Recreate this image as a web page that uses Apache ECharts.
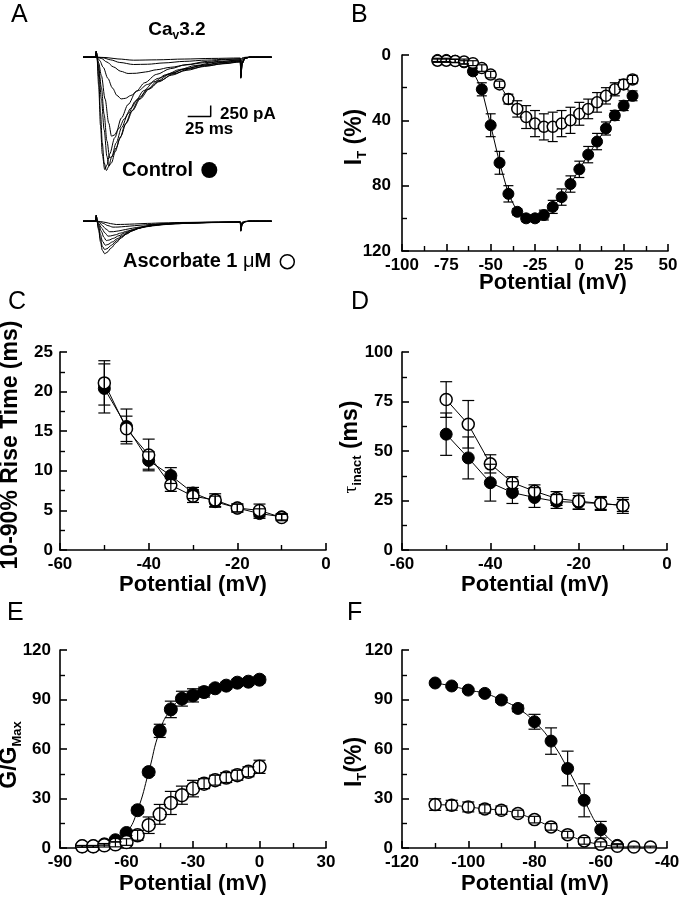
<!DOCTYPE html>
<html><head><meta charset="utf-8">
<script src="https://cdn.jsdelivr.net/npm/echarts@6/dist/echarts.min.js"></script>
<style>html,body{margin:0;padding:0;background:#fff}#c{width:680px;height:900px}</style>
</head><body><div id="c"></div><script>
// ---------------- DATA ----------------
// Panel A: current traces (time in ms, current in pA)
const onsetPts = [[0,0],[14,0],[14.5,130],[15.2,0]];
const ctrl1 = [[17,-450],[19,-1250],[21,-1950],[23,-2400],[25.5,-2575],[28,-2480],[31,-2280],[36,-1950],[42,-1600],[49,-1280],[57,-1000],[66,-760],[77,-560],[90,-400],[105,-280],[122,-190],[145,-110],[171,-60],[171.5,-480],[173,-150],[176,-30],[181,0],[205,0]];
const ctrl2 = [[17,-650],[19,-1550],[21,-2200],[23.6,-2552],[26,-2450],[29,-2200],[34.5,-1830],[41.8,-1380],[49,-1075],[58,-770],[67,-580],[80,-390],[95,-260],[112,-170],[135,-95],[155,-55],[171,-35],[171.5,-440],[173,-130],[176,-25],[181,0],[205,0]];
const ctrl3 = [[17,-300],[20,-950],[23,-1650],[26,-2250],[28,-2477],[31,-2400],[35,-2150],[40,-1850],[46,-1520],[53,-1220],[61,-950],[70,-730],[81,-540],[94,-390],[110,-270],[130,-180],[150,-120],[171,-80],[171.5,-460],[173,-140],[176,-28],[181,0],[205,0]];
const ctrl4 = [[17,-220],[20,-700],[23,-1300],[26,-1900],[29,-2289],[32,-2240],[36,-2060],[41,-1800],[47,-1500],[54,-1210],[62,-950],[72,-720],[84,-530],[98,-380],[115,-270],[135,-190],[155,-140],[171,-100],[171.5,-470],[173,-140],[176,-28],[181,0],[205,0]];
const ctrl5 = [[17,-130],[20,-420],[24,-950],[28,-1500],[31,-1795],[34,-1770],[39,-1620],[45,-1400],[52,-1160],[60,-940],[70,-740],[82,-560],[96,-410],[112,-300],[132,-210],[152,-150],[171,-110],[171.5,-420],[173,-125],[176,-25],[181,0],[205,0]];
const ctrl6 = [[18,-70],[22,-230],[27,-480],[32,-700],[37,-870],[41.5,-948],[46,-935],[52,-870],[60,-760],[70,-620],[82,-480],[96,-360],[112,-260],[132,-180],[152,-125],[171,-90],[171.5,-330],[173,-100],[176,-20],[181,0],[205,0]];
const ctrl7 = [[20,-30],[26,-110],[33,-220],[41,-320],[49,-370],[58,-365],[68,-335],[80,-285],[95,-230],[112,-175],[132,-125],[152,-90],[171,-65],[171.5,-220],[173,-65],[176,-13],[181,0],[205,0]];
const ctrl8 = [[22,-15],[30,-60],[40,-120],[55,-166],[70,-160],[88,-130],[110,-95],[135,-65],[155,-48],[171,-38],[171.5,-120],[173,-36],[176,-7],[181,0],[205,0]];
const ctrl9 = [[25,-8],[38,-40],[55,-68],[80,-60],[110,-42],[140,-28],[171,-18],[171.5,-50],[173,-15],[176,-3],[181,0],[205,0]];
const asc1 = [[17,-200],[19,-470],[21,-660],[23.6,-740],[26,-710],[30.8,-606],[36,-490],[41.6,-380],[47,-295],[52.5,-227],[60,-160],[67,-114],[78,-75],[89,-52],[110,-35],[140,-25],[171,-20],[171.5,-230],[173,-70],[176,-12],[181,0],[205,0]];
const asc2 = [[17,-170],[19,-400],[21,-570],[23.6,-645],[26,-625],[31,-545],[36,-450],[42,-355],[48,-280],[54,-215],[61,-160],[68,-120],[79,-82],[90,-58],[110,-40],[140,-28],[171,-22],[171.5,-220],[173,-66],[176,-12],[181,0],[205,0]];
const asc3 = [[17,-120],[19,-300],[21,-450],[24.2,-545],[27,-530],[32,-470],[37,-400],[43,-320],[49,-255],[56,-195],[63,-150],[71,-112],[82,-78],[95,-55],[115,-38],[140,-28],[171,-22],[171.5,-210],[173,-63],[176,-12],[181,0],[205,0]];
const asc4 = [[17,-80],[20,-230],[22.5,-360],[25.3,-440],[28,-430],[33,-390],[39,-330],[45,-270],[52,-210],[60,-160],[68,-122],[78,-90],[90,-65],[105,-48],[125,-35],[150,-26],[171,-20],[171.5,-200],[173,-60],[176,-12],[181,0],[205,0]];
const asc5 = [[17,-50],[20,-150],[24,-270],[27.2,-340],[30,-335],[35,-310],[41,-270],[48,-225],[56,-180],[65,-140],[75,-108],[87,-80],[100,-60],[118,-44],[140,-32],[171,-22],[171.5,-180],[173,-54],[176,-11],[181,0],[205,0]];
const asc6 = [[18,-35],[21,-100],[25,-180],[29,-240],[33,-238],[39,-220],[46,-190],[54,-158],[63,-128],[73,-102],[85,-78],[100,-58],[118,-42],[140,-30],[171,-20],[171.5,-150],[173,-45],[176,-9],[181,0],[205,0]];
const asc7 = [[18,-15],[22,-50],[27,-100],[32.6,-135],[38,-133],[46,-120],[56,-102],[68,-82],[82,-63],[98,-48],[118,-35],[140,-26],[171,-18],[171.5,-110],[173,-33],[176,-7],[181,0],[205,0]];
const asc8 = [[19,-8],[25,-30],[30,-55],[36.2,-75],[45,-72],[56,-63],[70,-50],[88,-38],[110,-28],[140,-20],[171,-14],[171.5,-70],[173,-21],[176,-4],[181,0],[205,0]];
const scaleBar = [[113.8,-1350],[138.8,-1350],[138.8,-1100]]; // 25 ms x 250 pA

// Panel B: I-V
const bX = [-80,-75,-70,-65,-60,-55,-50,-45,-40,-35,-30,-25,-20,-15,-10,-5,0,5,10,15,20,25,30];
const bCtrl = [3,3,3.5,4.5,10,21,43,66,85,96,100,100,98,93,87,79,70,61,53,45,37,31,25];
const bCtrlErr = [1,1,1,1,2,4,7,7,5,2,2,2,3,4,5,5,5,5,5,4,3,3,3];
const bAsc = [3.5,3.5,3.7,4,5,8,12,18,27,33,38,42,44,44,42,40,36,33,29,25,21,18,15];
const bAscErr = [1,1,1,1.5,1.5,2,2,2,3,5,7,8,8,9,8,8,7,6,6,5,4,3,2.5];
// Panel C: rise time
const cdX = [-50,-45,-40,-35,-30,-25,-20,-15,-10];
const cCtrl = [20.4,15.6,11.3,9.4,7.2,6.1,5.3,4.6,4.2];
const cCtrlErr = [3.1,2.2,1.1,1.0,0.7,0.7,0.5,0.6,0.4];
const cAsc = [21.1,15.3,12.0,8.2,6.8,6.3,5.3,5.0,4.1];
const cAscErr = [2.8,1.6,2.0,0.8,0.8,0.8,0.5,0.8,0.4];
// Panel D: tau inact
const dCtrl = [58.5,46.5,34,29,26.5,24.5,24,23.5,22.5];
const dCtrlErr = [10.7,10.6,9.3,5.5,5,3.5,3.5,3,3];
const dAsc = [76,63.5,43.5,34,29.7,26,24.7,23.5,22.5];
const dAscErr = [9,12,4.6,3,3.2,3.5,4,3.5,4];
// Panel E: activation
const eX = [-80,-75,-70,-65,-60,-55,-50,-45,-40,-35,-30,-25,-20,-15,-10,-5,0];
const eCtrl = [1,1,2.2,4.7,9.1,22.9,46,71,84,90.5,92.5,94.5,96.8,98.4,100.2,100.8,102];
const eCtrlErr = [0.5,0.5,0.5,1,1.5,2,2,4,5,4.5,4,3,2,2,2,2,2];
const eAsc = [1,1,1.6,2.2,3.6,7.7,13.8,20.4,27.3,32,36,39,41.1,42.7,44.1,46.2,49.2];
const eAscErr = [0.5,0.5,1,1.5,2,3,5,6,7,5.5,5,3,3,3,3,3,4];
// Panel F: inactivation
const fX = [-110,-105,-100,-95,-90,-85,-80,-75,-70,-65,-60,-55,-50,-45];
const fCtrl = [100,98.2,95.7,93.7,89.7,84.6,76.5,64.8,48.2,28.9,11.1,1.6];
const fCtrlErr = [1,1,1,1,1.5,2,4.5,8,10.5,10,5,1];
const fAsc = [26.3,25.9,24.9,23.7,22.9,20.9,17.2,12.8,8.1,4.3,2.2,1,0.6,0.6];
const fAscErr = [3.5,3,3,2.5,2.5,2,2,2,2,2,1.5,1,0.5,0.5];

// ---------------- BUILD ----------------
const FF = '"Liberation Sans", Arial, Helvetica, sans-serif';
const chart = echarts.init(document.getElementById('c'), null, {renderer:'canvas'});

function axis(gi, min, max, interval, opts) {
  opts = opts || {};
  return Object.assign({
    type:'value', gridIndex:gi, min:min, max:max, interval:interval,
    axisLine:{show:true, onZero:false, lineStyle:{color:'#000', width:1.6}},
    axisTick:{show:true, inside:true, length:7, lineStyle:{color:'#000', width:1.6}},
    minorTick:{show:true, splitNumber:2, length:5, lineStyle:{color:'#000', width:1.4}},
    splitLine:{show:false}, minorSplitLine:{show:false},
    axisLabel:{show:true, color:'#000', fontFamily:FF, fontWeight:'bold', fontSize:17, margin: opts.margin || 6, showMinLabel:true, showMaxLabel:true}
  }, opts.extra || {});
}
function hidden(gi, min, max) { return {type:'value', gridIndex:gi, min:min, max:max, show:false, splitLine:{show:false}}; }

function pts(gi, xs, ys, filled, size, smooth, z) {
  return {type:'line', xAxisIndex:gi, yAxisIndex:gi, z:z,
    data: ys.map((y,i)=>[xs[i], y]), symbol:'circle', symbolSize:size, smooth:smooth,
    lineStyle:{color:'#000', width:1},
    itemStyle: filled ? {color:'#000', borderColor:'#000', borderWidth:1} : {color:'#fff', borderColor:'#000', borderWidth:1.5},
    emphasis:{disabled:true}, silent:true, animation:false};
}
function errs(gi, xs, ys, es, z, hw) {
  return {type:'custom', xAxisIndex:gi, yAxisIndex:gi, z:z, silent:true, animation:false,
    data: ys.map((y,i)=>[xs[i], y, es[i]]), encode:{x:0, y:1},
    renderItem: function(p, api) {
      const x = api.value(0), y = api.value(1), e = api.value(2);
      const a = api.coord([x, y+e]), b = api.coord([x, y-e]);
      const st = {stroke:'#000', lineWidth:1.2};
      return {type:'group', children:[
        {type:'line', shape:{x1:a[0], y1:a[1], x2:b[0], y2:b[1]}, style:st},
        {type:'line', shape:{x1:a[0]-hw, y1:a[1], x2:a[0]+hw, y2:a[1]}, style:st},
        {type:'line', shape:{x1:b[0]-hw, y1:b[1], x2:b[0]+hw, y2:b[1]}, style:st}
      ]};
    }};
}
function trace(gi, body) {
  return {type:'line', xAxisIndex:gi, yAxisIndex:gi, data: onsetPts.concat(body), symbol:'none',
    smooth:0.3, smoothMonotone:'x', lineStyle:{color:'#000', width:1}, silent:true, animation:false, z:2};
}

// rich label helper (measures text to lay out parts)
const mctx = document.createElement('canvas').getContext('2d');
function fontStr(p) { return (p.style||'normal') + ' ' + (p.weight||'bold') + ' ' + p.size + 'px ' + (p.family||FF); }
function label(parts, cx, cy, rot, align) {
  let widths = parts.map(p => { mctx.font = fontStr(p); return mctx.measureText(p.t).width; });
  const total = widths.reduce((a,b)=>a+b, 0);
  let x0 = align === 'left' ? 0 : -total/2;
  const children = parts.map((p,i) => {
    const el = {type:'text', x:x0, y:(p.dy||0), style:{text:p.t, font:fontStr(p), fill:'#000', textAlign:'left', textVerticalAlign:'middle', verticalAlign:'middle'}};
    x0 += widths[i];
    return el;
  });
  return {type:'group', x:cx, y:cy, rotation: rot ? Math.PI/2 : 0, children:children, silent:true};
}
const T22 = t => ({t:t, size:22});
const graphics = [
  label([{t:'A', size:25, weight:'normal'}], 11, 15, false, 'left'),
  label([{t:'B', size:25, weight:'normal'}], 351, 15, false, 'left'),
  label([{t:'C', size:25, weight:'normal'}], 8, 302, false, 'left'),
  label([{t:'D', size:25, weight:'normal'}], 351, 302, false, 'left'),
  label([{t:'E', size:25, weight:'normal'}], 7, 613, false, 'left'),
  label([{t:'F', size:25, weight:'normal'}], 347, 613, false, 'left'),
  label([{t:'Ca', size:19}, {t:'v', size:12, dy:6}, {t:'3.2', size:19}], 177, 30, false),
  label([{t:'250 pA', size:17}], 220, 114, false, 'left'),
  label([{t:'25 ms', size:17}], 185, 129, false, 'left'),
  label([{t:'Control', size:20}], 122, 170, false, 'left'),
  label([{t:'Ascorbate 1 ', size:20}, {t:'\u03bc', size:20, weight:'normal'}, {t:'M', size:20}], 123, 261, false, 'left'),
  {type:'circle', shape:{cx:209.3, cy:170, r:8}, style:{fill:'#000'}, silent:true},
  {type:'circle', shape:{cx:287.3, cy:261.7, r:7}, style:{fill:'#fff', stroke:'#000', lineWidth:1.5}, silent:true},
  // axis titles
  label([T22('Potential (mV)')], 553, 283, false),
  label([{t:'I', size:23}, {t:'T', size:13, dy:7}, {t:' (%)', size:23}], 355, 137, true),
  label([T22('Potential (mV)')], 193, 585, false),
  label([{t:'10-90% Rise Time (ms)', size:23}], 11, 445, true),
  label([T22('Potential (mV)')], 535, 585, false),
  label([{t:'\u03c4', size:19, weight:'normal', family:'"Liberation Serif", serif'}, {t:'inact', size:13, dy:6}, {t:' (ms)', size:23}], 351, 447, true),
  label([T22('Potential (mV)')], 193, 884, false),
  label([{t:'G/G', size:23}, {t:'Max', size:13, dy:7}], 10, 755, true),
  label([T22('Potential (mV)')], 535, 884, false),
  label([{t:'I', size:23}, {t:'T', size:13, dy:7}, {t:'(%)', size:23}], 355, 762, true)
];

const grids = [
  {left:83, top:44, width:188.6, height:132},
  {left:83, top:208, width:188.6, height:132},
  {left:402, top:55, width:266, height:196},
  {left:60, top:352, width:266, height:198},
  {left:402, top:352, width:265, height:198},
  {left:60, top:650, width:266, height:198},
  {left:402, top:650, width:265, height:198}
].map(g => Object.assign(g, {containLabel:false, outerBoundsMode:'none', show:false}));

const xAxes = [
  hidden(0, 0, 205), hidden(1, 0, 205),
  axis(2, -100, 50, 25, {margin:6}),
  axis(3, -60, 0, 20, {margin:6}),
  axis(4, -60, 0, 20, {margin:6}),
  axis(5, -90, 30, 30, {margin:6}),
  axis(6, -120, -40, 20, {margin:6})
];
xAxes.slice(2).forEach(a => a.position = 'bottom');
const yAxes = [
  hidden(0, -2700, 300), hidden(1, -2700, 300),
  axis(2, 0, 120, 40, {margin:11, extra:{inverse:true}}),
  axis(3, 0, 25, 5, {margin:7}),
  axis(4, 0, 100, 25, {margin:9}),
  axis(5, 0, 120, 30, {margin:9}),
  axis(6, 0, 120, 30, {margin:9})
];

const series = [
  trace(0, ctrl1), trace(0, ctrl2), trace(0, ctrl3), trace(0, ctrl4), trace(0, ctrl5),
  trace(0, ctrl6), trace(0, ctrl7), trace(0, ctrl8), trace(0, ctrl9),
  {type:'line', xAxisIndex:0, yAxisIndex:0, data:scaleBar, symbol:'none', lineStyle:{color:'#000', width:1.5}, silent:true, animation:false},
  trace(1, asc1), trace(1, asc2), trace(1, asc3), trace(1, asc4),
  trace(1, asc5), trace(1, asc6), trace(1, asc7), trace(1, asc8),
  pts(2, bX, bCtrl, true, 11, false, 2), pts(2, bX, bAsc, false, 11, false, 3),
  errs(2, bX, bCtrl, bCtrlErr, 4, 5), errs(2, bX, bAsc, bAscErr, 4, 5),
  pts(3, cdX, cCtrl, true, 12, false, 2), pts(3, cdX, cAsc, false, 12, false, 3),
  errs(3, cdX, cCtrl, cCtrlErr, 4, 6), errs(3, cdX, cAsc, cAscErr, 4, 6),
  pts(4, cdX, dCtrl, true, 12, false, 2), pts(4, cdX, dAsc, false, 12, false, 3),
  errs(4, cdX, dCtrl, dCtrlErr, 4, 6), errs(4, cdX, dAsc, dAscErr, 4, 6),
  pts(5, eX, eCtrl, true, 13, true, 2), pts(5, eX, eAsc, false, 13, true, 3),
  errs(5, eX, eCtrl, eCtrlErr, 4, 6), errs(5, eX, eAsc, eAscErr, 4, 6),
  pts(6, fX, fCtrl, true, 12, true, 2), pts(6, fX, fAsc, false, 12, true, 3),
  errs(6, fX, fCtrl, fCtrlErr, 4, 6), errs(6, fX, fAsc, fAscErr, 4, 6)
];

chart.setOption({
  backgroundColor:'#fff', animation:false,
  grid: grids, xAxis: xAxes, yAxis: yAxes, series: series, graphic: graphics
});
</script></body></html>
